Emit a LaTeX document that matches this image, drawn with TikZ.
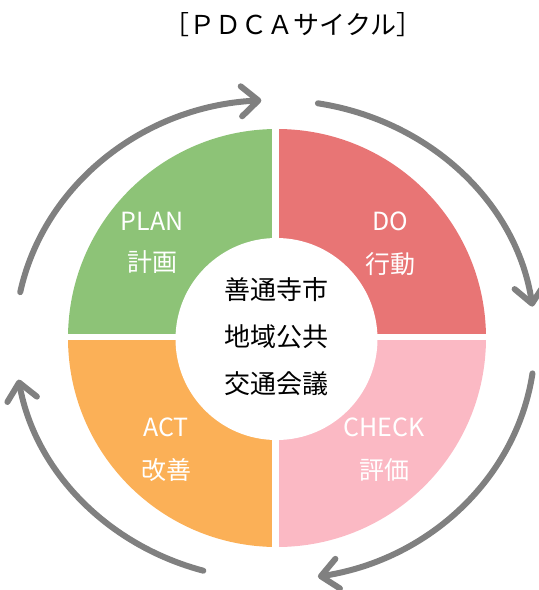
\documentclass[tikz,border=0pt]{standalone}
\usepackage{fontspec}
\setmainfont{Noto Sans CJK JP}
\usetikzlibrary{arrows.meta}
\definecolor{plangreen}{RGB}{141,195,119}
\definecolor{dored}{RGB}{232,117,117}
\definecolor{checkpink}{RGB}{251,185,196}
\definecolor{actorange}{RGB}{251,176,87}
\definecolor{cyclegray}{RGB}{128,128,128}
\tikzset{
  cyclearrow/.style={draw=cyclegray, line width=6pt, line cap=round, line join=round,
    -{Straight Barb[length=17pt,width=30pt,line cap=round,line join=round]}},
  quadlabel/.style={text=white, font=\fontsize{25}{25}\selectfont, inner sep=0pt},
  centerlabel/.style={text=black, font=\fontsize{26}{26}\selectfont, inner sep=0pt},
  titlelabel/.style={text=black, font=\fontsize{26}{26}\selectfont, inner sep=0pt}
}
\begin{document}
\begin{tikzpicture}[x=1pt,y=-1pt]
\useasboundingbox (0,0) rectangle (539,590);
\coordinate (c) at (277,338);
% quadrants
\fill[plangreen] (c) -- ++(-209,0) arc[start angle=180,end angle=270,radius=209] -- cycle;
\fill[dored] (c) -- ++(0,-209) arc[start angle=270,end angle=360,radius=209] -- cycle;
\fill[checkpink] (c) -- ++(209,0) arc[start angle=0,end angle=90,radius=209] -- cycle;
\fill[actorange] (c) -- ++(0,209) arc[start angle=90,end angle=180,radius=209] -- cycle;
\fill[white] (272,120) rectangle (279,560);
\fill[white] (60,334) rectangle (495,340);
\fill[white] (276.5,339) circle[radius=101];
% cycle arrows
\coordinate (e) at (275,340);
\draw[cyclearrow] (e) ++(-168.5:260 and 240) coordinate (a1)
  arc[start angle=-168.5,end angle=-93,x radius=260,y radius=240];
\draw[cyclearrow] (e) ++(-80.5:260 and 240) coordinate (a2)
  arc[start angle=-80.5,end angle=-8,x radius=260,y radius=240];
\draw[cyclearrow] (e) ++(8:260 and 240) coordinate (a3)
  arc[start angle=8,end angle=80.5,x radius=260,y radius=240];
\draw[cyclearrow] (e) ++(106:260 and 240) coordinate (a4)
  arc[start angle=106,end angle=170.5,x radius=260,y radius=240];
% labels
\node[titlelabel] (title) at (293,25) {［ＰＤＣＡサイクル］};
\node[quadlabel] (plan) at (152,221) {PLAN};
\node[quadlabel] (planj) at (152,262) {計画};
\node[quadlabel] (do) at (390,221) {DO};
\node[quadlabel] (doj) at (390,264) {行動};
\node[quadlabel] (check) at (384,427) {CHECK};
\node[quadlabel] (checkj) at (384,470) {評価};
\node[quadlabel] (act) at (166,427) {ACT};
\node[quadlabel] (actj) at (166,470) {改善};
\node[centerlabel] (l1) at (276,290) {善通寺市};
\node[centerlabel] (l2) at (276,337) {地域公共};
\node[centerlabel] (l3) at (276,384) {交通会議};
\end{tikzpicture}
\end{document}
